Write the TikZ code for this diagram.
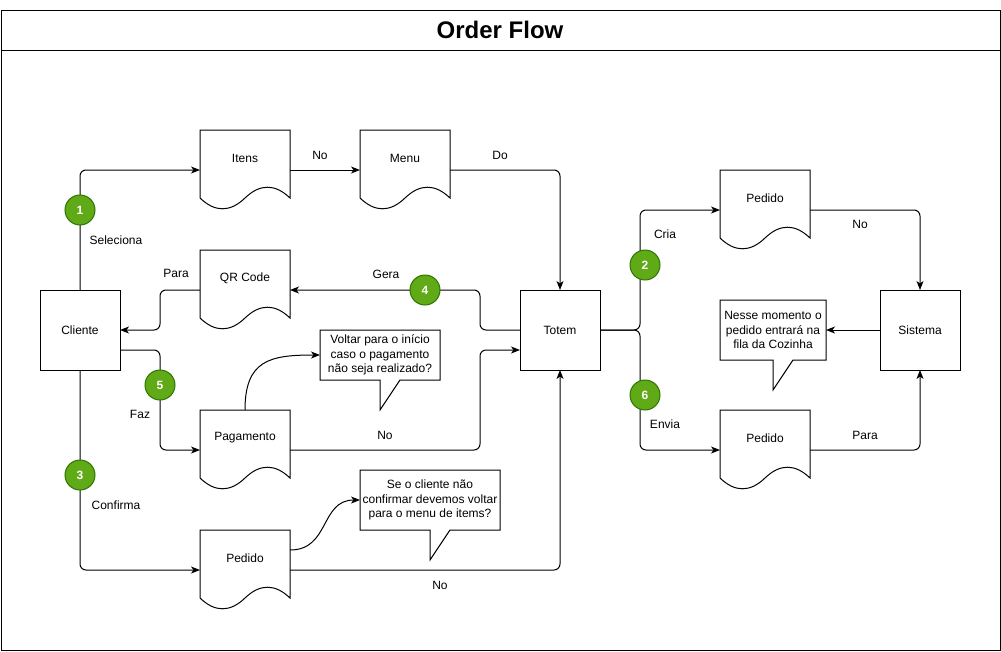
\documentclass[tikz,border=0pt]{standalone}
\usepackage{fontspec}
\setmainfont{Liberation Sans}
\usetikzlibrary{arrows.meta}
\definecolor{badgefill}{HTML}{60A917}
\definecolor{badgeline}{HTML}{2D7600}

\newcommand{\docnode}[3]{%
  \node[docbox] (#1) at #2 {};
  \draw[shapeline, shift={(#1.north west)}] (0,0) -- (90,0) -- (90,68)
    .. controls (75,53.6) and (60,53.6) .. (45,68)
    .. controls (30,82.4) and (15,82.4) .. (0,68) -- cycle;
  \node[txt] (#1-text) at ([yshift=-28pt]#1.north) {#3};
}
\newcommand{\calloutnode}[5]{%
  \node[notebox, minimum width=#3, minimum height=#4] (#1) at #2 {#5};
  \draw[shapeline] (#1.south) -- (#1.south west) -- (#1.north west)
    -- (#1.north east) -- (#1.south east) -- ([xshift=20pt]#1.south)
    -- ([yshift=-30pt]#1.south) -- cycle;
}

\begin{document}
\begin{tikzpicture}[x=1pt,y=-1pt,
    every node/.style={outer sep=0pt},
    txt/.style={font=\fontsize{12}{14.5}\selectfont, inner sep=0pt},
    box/.style={txt, draw, line width=1pt, minimum width=80pt, minimum height=80pt},
    docbox/.style={inner sep=0pt, minimum width=90pt, minimum height=80pt},
    notebox/.style={txt, align=center},
    shapeline/.style={line width=1pt},
    flow/.style={line width=1pt, rounded corners=6pt, -{Stealth[length=9pt,width=7pt,inset=2.5pt]}},
    note/.style={line width=1pt, -{Stealth[length=9pt,width=7pt,inset=2.5pt]}},
    lbl/.style={txt},
    badge/.style={circle, fill=badgefill, draw=badgeline, line width=1pt, minimum size=30pt,
      inner sep=0pt, text=white, font=\fontsize{12}{14}\selectfont\bfseries}]
  \useasboundingbox (0,0) rectangle (1001,651);
  \draw[line width=1pt] (1,10) rectangle (1000,650);
  \draw[line width=1pt] (1,50) -- (1000,50);
  \node[font=\fontsize{24}{28}\selectfont\bfseries, inner sep=0pt] (title) at (500,30) {Order Flow};

  \node[box] (cliente) at (80,330) {Cliente};
  \node[box] (totem) at (560,330) {Totem};
  \node[box] (sistema) at (920,330) {Sistema};
  \docnode{itens}{(245,170)}{Itens}
  \docnode{menu}{(405,170)}{Menu}
  \docnode{qrcode}{(245,290)}{QR Code}
  \docnode{pagamento}{(245,450)}{Pagamento}
  \docnode{pedido}{(245,570)}{Pedido}
  \docnode{pedidoA}{(765,210)}{Pedido}
  \docnode{pedidoB}{(765,450)}{Pedido}
  \calloutnode{voltar}{(380,355)}{120pt}{50pt}{Voltar para o início\\caso o pagamento\\não seja realizado?}
  \calloutnode{confirmar}{(430,500)}{140pt}{60pt}{Se o cliente não\\confirmar devemos voltar\\para o menu de items?}
  \calloutnode{cozinha}{(773,330)}{106pt}{60pt}{Nesse momento o\\pedido entrará na\\fila da Cozinha}

  \begin{scope}[flow]
    \draw (cliente.north) |- (itens.west);
    \draw (itens.east) -- (menu.west);
    \draw (menu.east) -| (totem.north);
    \draw (totem.west) -- ++(-40,0) |- (qrcode.east);
    \draw (qrcode.west) -- ++(-40,0) |- (cliente.east);
    \draw ([yshift=-20pt]cliente.east) -- ++(40,0) |- (pagamento.west);
    \draw (pagamento.east) -- ++(190,0) |- ([yshift=-20pt]totem.west);
    \draw (cliente.south) |- (pedido.west);
    \draw (pedido.east) -| (totem.south);
    \draw (totem.east) -- ++(40,0) |- (pedidoA.west);
    \draw (totem.east) -- ++(40,0) |- (pedidoB.west);
    \draw (pedidoA.east) -| (sistema.north);
    \draw (pedidoB.east) -| (sistema.south);
    \draw (sistema.west) -- (cozinha.east);
  \end{scope}
  \draw[note] (pagamento.north) .. controls +(0,-50) and +(-50,0) .. (voltar.west);
  \draw[note] ([yshift=20pt]pedido.east) .. controls +(40,0) and +(-40,0) .. (confirmar.west);

  \node[lbl] (lSeleciona) at (116,240) {Seleciona};
  \node[lbl] (lNo1) at (320,155) {No};
  \node[lbl] (lDo) at (500,155) {Do};
  \node[lbl] (lGera) at (386,274) {Gera};
  \node[lbl] (lPara1) at (176,273) {Para};
  \node[lbl] (lFaz) at (140,414) {Faz};
  \node[lbl] (lNo2) at (385,435) {No};
  \node[lbl] (lConfirma) at (116,505) {Confirma};
  \node[lbl] (lNo3) at (440,585) {No};
  \node[lbl] (lCria) at (665,234) {Cria};
  \node[lbl] (lEnvia) at (665,424) {Envia};
  \node[lbl] (lNo4) at (860,224) {No};
  \node[lbl] (lPara2) at (865,435) {Para};

  \node[badge] (b1) at (80,210) {1};
  \node[badge] (b2) at (645,265) {2};
  \node[badge] (b3) at (80,475) {3};
  \node[badge] (b4) at (425,290) {4};
  \node[badge] (b5) at (160,385) {5};
  \node[badge] (b6) at (645,395) {6};
\end{tikzpicture}
\end{document}
